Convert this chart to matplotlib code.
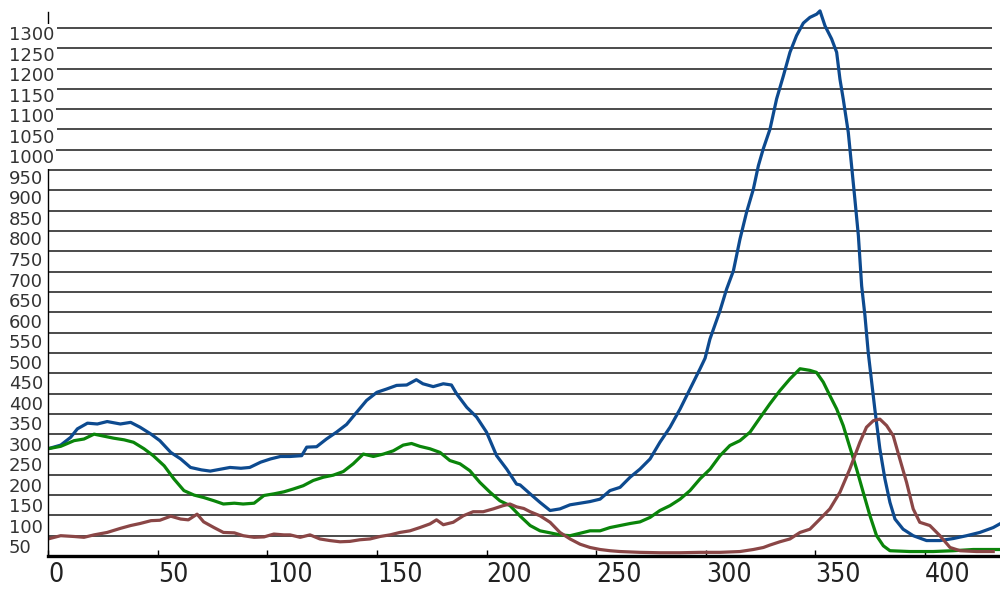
"""
plot.py - three overlapping count curves on a ruled grid
"""
import matplotlib
matplotlib.use("Agg")
import matplotlib.pyplot as plt
import matplotlib.transforms as mtransforms
from matplotlib import font_manager

# ---- data ----
blue_x = [0, 5.8, 10.3, 13.4, 18, 22.5, 27, 33, 37.7, 42, 47, 51, 56, 60.5, 65, 70, 74, 79, 83, 88,
          92, 97, 101.5, 106, 110.4, 115.7, 118, 122.5, 127, 131.6, 136.2, 140.8, 145.3, 150, 154.4,
          159, 163.6, 168, 171, 175.7, 180.3, 184, 186.4, 191, 195.5, 200, 204.6, 209.2, 213.7, 215.3,
          219.9, 224.4, 229, 233.5, 238.1, 242.7, 247.2, 251.8, 256.3, 260.9, 265.5, 270, 274.6, 279.1,
          283.7, 288.3, 292.8, 297.4, 299.7, 301.9, 306.5, 309.5, 312.6, 315.6, 318.6, 321.7, 324,
          326.2, 329.3, 332.3, 335.4, 338.4, 341.4, 344.5, 347.5, 350.6, 352.1, 354.4, 357.4, 359.7,
          361.2, 362.7, 365, 366.5, 368, 369.6, 371.1, 372.6, 374.1, 377.1, 379.4, 381.7, 384, 386.3,
          390, 394.6, 400.7, 406.8, 412.9, 419, 425, 431.1, 434.1]
blue_y = [264, 273, 292, 313, 327, 325, 331, 325, 329, 317, 300, 284, 255, 239, 218, 212, 209, 214, 218, 216,
          218, 231, 239, 245, 245, 247, 268, 269, 288, 305, 324, 354, 383, 403, 411,
          420, 421, 434, 424, 417, 424, 421, 399, 366, 342, 305, 247, 214, 177, 175,
          153, 132, 112, 116, 126, 130, 134, 140, 161, 169, 194, 214, 239, 280,
          317, 362, 411, 461, 487, 534, 604, 657, 702, 780, 846, 903, 961,
          1002, 1051, 1125, 1182, 1240, 1281, 1312, 1326, 1334, 1342, 1305, 1273, 1240,
          1174, 1125, 1043, 961, 879, 789, 665, 592, 501, 362, 264, 190, 132, 91,
          66, 50, 38, 38, 43, 50, 58, 70, 79]

green_x = [0, 5.8, 11.9, 16.4, 21, 25.5, 30, 34.7, 39, 43.8, 48, 53, 57.4, 62, 66.6, 71, 75.7, 80, 85, 89,
           94, 98.5, 103, 107.6, 111.9, 116.4, 121, 125.6, 130.1, 134.7, 139.2, 143.8, 148.4, 153, 157.5,
           162, 165.8, 169.6, 174.2, 178.8, 183.3, 187.9, 192.4, 197, 201.6, 206.1, 210.7, 215.2, 219.9,
           224.4, 229, 233.5, 238.1, 242.7, 247.2, 251.8, 256.3, 260.9, 265.5, 270, 274.6, 279.1, 283.7,
           288.3, 292.8, 297.4, 302, 306.5, 311, 315.6, 320.2, 324.7, 329.3, 333.8, 338.4, 343, 347.5,
           350.5, 353.6, 356.6, 359.7, 362.7, 365.7, 368.8, 371.8, 374.9, 377.9, 381, 384, 393.1, 403.7,
           412.9, 422, 434.1]
green_y = [264, 270, 284, 288, 300, 295, 290, 286, 280, 264, 247, 222, 190, 161, 150, 144, 136, 128, 130, 128,
           130, 149, 153, 158, 165, 173, 186, 194, 199, 208, 227, 251, 245, 251, 259,
           273, 277, 270, 264, 255, 235, 227, 210, 181, 157, 136, 124, 99, 75,
           62, 57, 52, 50, 56, 62, 62, 70, 75, 80, 84, 95, 112, 124,
           140, 161, 190, 214, 247, 272, 284, 305, 340, 375, 407, 436, 461, 457,
           452, 428, 395, 362, 321, 268, 214, 157, 99, 50, 25, 13, 11, 11,
           13, 16, 16]

brown_x = [0, 5.8, 11.9, 16.4, 21, 27, 33, 37.7, 42, 47, 51, 56, 60.5, 64, 68, 71, 75.7, 80, 85, 89,
           94, 98.5, 103, 107.6, 110.4, 115, 119.5, 124, 128.6, 133.2, 137.7, 142.3, 146.9, 151.4, 156,
           160.5, 165.1, 169.6, 174.2, 177.2, 180.3, 184.8, 189.4, 193.9, 198.5, 203.1, 207.6, 210.7,
           213.7, 217, 219.9, 224.4, 229, 233.5, 238.1, 242.7, 247.2, 251.8, 256.3, 260.9, 270, 279.1,
           288.3, 297.4, 306.5, 315.6, 321.7, 326.3, 329.3, 333.8, 338.4, 343, 347.5, 352.1, 356.6,
           361.2, 365.7, 370.3, 373.3, 376.4, 379.4, 382.5, 385.5, 388.5, 391.6, 394.6, 397.6, 402.2,
           406.8, 411.4, 416, 423.5, 431.1]
brown_y = [42, 50, 48, 46, 52, 58, 68, 75, 80, 87, 88, 98, 91, 89, 103, 84, 70, 58, 57, 50,
           46, 47, 54, 52, 52, 46, 52, 42, 38, 35, 36, 40, 42, 48, 52,
           58, 62, 70, 79, 89, 77, 83, 99, 109, 109, 116, 124, 128,
           121, 117, 109, 99, 83, 58, 42, 29, 21, 16, 13, 11, 9, 8,
           8, 9, 9, 11, 16, 21, 27, 35, 42, 58, 66, 91, 116,
           157, 214, 280, 317, 333, 337, 321, 296, 239, 181, 116, 83, 75,
           50, 21, 13, 11, 11]

y_ticks = list(range(50, 1301, 50))
x_ticks = list(range(0, 401, 50))

# pick a narrow face for the tall x labels if one is installed
installed = {(f.name, f.stretch) for f in font_manager.fontManager.ttflist}
names = {n for n, _ in installed}
narrow_kw = dict(family="DejaVu Sans", fontsize=15)
if "Liberation Sans Narrow" in names:
    narrow_kw = dict(family="Liberation Sans Narrow", fontsize=20)
elif ("DejaVu Sans", "condensed") in installed:
    narrow_kw = dict(family="DejaVu Sans", fontstretch="condensed", fontsize=19)
elif ("DejaVu Sans", "semi-condensed") in installed:
    narrow_kw = dict(family="DejaVu Sans", fontstretch="semi-condensed", fontsize=19)

# ---- figure ----
fig = plt.figure(figsize=(10, 5.92), dpi=100)
ax = fig.add_axes([0.048, 36 / 592, 0.952, 556 / 592])
ax.set_xlim(0, 434.2)
ax.set_ylim(0, 1368.8)

# horizontal rules
ax.hlines(y_ticks, 0, 430.5, colors="#1a1a1a", linewidth=1.1, zorder=1)

ax.plot(blue_x, blue_y, color="#0d4a8f", linewidth=2.3, zorder=2)
ax.plot(green_x, green_y, color="#0a850a", linewidth=2.3, zorder=2)
ax.plot(brown_x, brown_y, color="#8a4646", linewidth=2.3, zorder=2)

for s in ["top", "right"]:
    ax.spines[s].set_visible(False)
ax.spines["left"].set_bounds(0, 1340)
ax.spines["left"].set_linewidth(1.0)
ax.spines["bottom"].set_linewidth(2.4)
ax.spines["bottom"].set_zorder(4)

# y labels: white boxes sitting over the rule start
ax.set_yticks([])
blend = mtransforms.blended_transform_factory(ax.transAxes, ax.transData)
for v in y_ticks:
    off = 13.0 - 0.0045 * v
    ax.annotate(str(v), xy=(0, v), xycoords=blend, xytext=(-39, -off),
                textcoords="offset pixels", ha="left", va="center",
                fontsize=13, color="#333333", annotation_clip=False, zorder=5,
                bbox=dict(boxstyle="square,pad=0.12", fc="white", ec="none"))

# x labels, left aligned on their ticks
ax.set_xticks(x_ticks)
ax.set_xticklabels([str(t) for t in x_ticks], ha="left", color="#222222", **narrow_kw)
ax.tick_params(axis="x", direction="in", length=4, width=1, pad=4)

fig.savefig("out.png", dpi=100)
